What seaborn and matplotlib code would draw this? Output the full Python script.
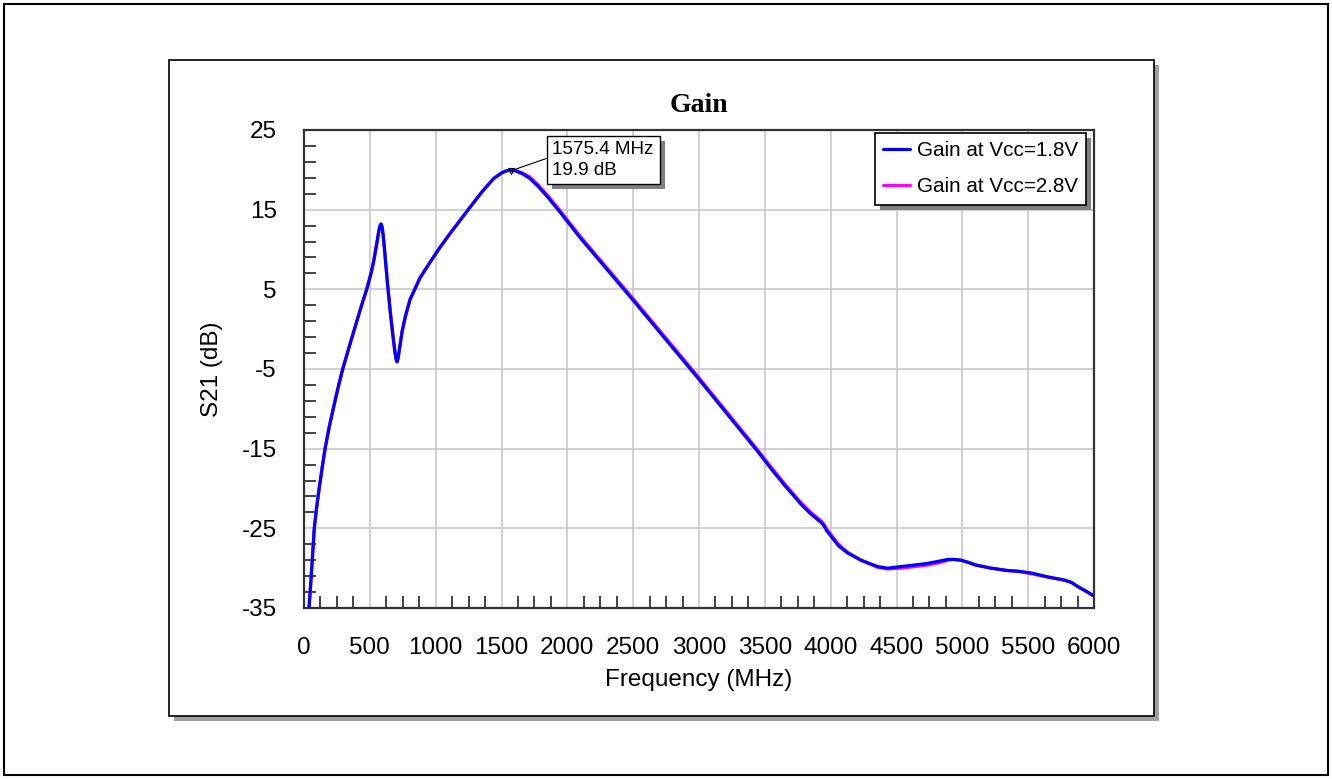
import pandas as pd
import numpy as np
import matplotlib
matplotlib.use("Agg")
import matplotlib.pyplot as plt
import matplotlib.patheffects as pe
from matplotlib.patches import Rectangle
from matplotlib.ticker import MultipleLocator, FixedLocator
import seaborn as sns

# Frequency (MHz) and S21 (dB)
freq = [30, 38, 55, 78, 95, 115, 137, 160, 190, 222,
        258, 294, 340, 383, 430, 476, 509, 530, 547, 560,
        570, 578, 585, 592, 600, 610, 622, 635, 655, 674,
        690, 700, 707, 714, 725, 745, 770, 805, 880, 957,
        1030, 1109, 1261, 1350, 1440, 1500, 1540, 1575, 1610, 1660,
        1716, 1780, 1860, 1944, 2096, 2501, 3000, 3448, 3547, 3650,
        3724, 3776, 3850, 3901, 3930, 3950, 3970, 4003, 4060, 4129,
        4230, 4357, 4433, 4534, 4640, 4737, 4830, 4889, 4930, 4990,
        5050, 5100, 5218, 5344, 5430, 5522, 5648, 5775, 5830, 5876,
        5940, 6000]

gain_18 = [-37.5, -35.0, -31.0, -25.0, -22.5, -20.0, -17.5, -15.0, -12.4, -10.0,
           -7.4, -5.0, -2.4, 0.0, 2.6, 5.0, 7.0, 8.6, 10.2, 11.5,
           12.5, 13.0, 13.2, 12.9, 12.0, 10.3, 8.0, 5.6, 2.2, -0.6,
           -2.8, -3.8, -4.1, -3.7, -2.5, -0.3, 1.6, 3.7, 6.4, 8.4,
           10.2, 12.0, 15.3, 17.2, 18.9, 19.6, 19.9, 19.95, 19.85, 19.5,
           18.9, 17.9, 16.4, 14.7, 11.5, 3.6, -6.3, -15.4, -17.5, -19.6,
           -21.0, -22.0, -23.2, -23.9, -24.3, -24.7, -25.3, -26.0, -27.2, -28.1,
           -29.0, -29.8, -30.0, -29.8, -29.6, -29.4, -29.1, -28.9, -28.9, -29.0,
           -29.3, -29.6, -30.0, -30.3, -30.4, -30.6, -31.1, -31.5, -31.8, -32.3,
           -32.9, -33.5]

gain_28 = [-37.5, -35.0, -31.0, -25.0, -22.5, -20.0, -17.5, -15.0, -12.4, -10.0,
           -7.4, -5.0, -2.4, 0.0, 2.6, 5.0, 7.0, 8.6, 10.2, 11.5,
           12.5, 13.0, 13.2, 12.9, 12.0, 10.3, 8.0, 5.6, 2.2, -0.6,
           -2.8, -3.8, -4.1, -3.7, -2.5, -0.3, 1.6, 3.7, 6.4, 8.4,
           10.2, 12.0, 15.3, 17.2, 18.9, 19.6, 19.9, 19.95, 19.9, 19.6,
           19.1, 18.1, 16.6, 14.9, 11.7, 3.8, -6.1, -15.2, -17.3, -19.4,
           -20.8, -21.8, -23.0, -23.7, -24.1, -24.5, -25.1, -25.8, -27.0, -28.0,
           -29.0, -29.9, -30.1, -30.0, -29.8, -29.6, -29.3, -29.0, -28.9, -29.0,
           -29.3, -29.6, -30.0, -30.3, -30.4, -30.7, -31.1, -31.5, -31.8, -32.3,
           -32.9, -33.5]

series_labels = ["Gain at Vcc=1.8V", "Gain at Vcc=2.8V"]
series_colors = ["#0000ff", "#ff00ff"]

x_ticks = [0, 500, 1000, 1500, 2000, 2500, 3000, 3500, 4000, 4500, 5000, 5500, 6000]
y_ticks = [-35, -25, -15, -5, 5, 15, 25]

peak_freq = 1575.4
peak_gain = 19.9

df = pd.concat([
    pd.DataFrame({"freq": freq, "gain": gain_18, "series": series_labels[0]}),
    pd.DataFrame({"freq": freq, "gain": gain_28, "series": series_labels[1]}),
])

sns.set_style("white")
plt.rcParams["font.family"] = ["Liberation Sans", "DejaVu Sans"]
plt.rcParams["axes.unicode_minus"] = False
plt.rcParams["text.color"] = "black"
plt.rcParams["axes.labelcolor"] = "black"
plt.rcParams["xtick.color"] = "black"
plt.rcParams["ytick.color"] = "black"

W, H = 1332, 779
fig = plt.figure(figsize=(W / 100, H / 100), dpi=100)
fig.patch.set_facecolor("white")

# outer frame and raised panel with drop shadow
fig.add_artist(Rectangle((4 / W, 4 / H), 1 - 8 / W, 1 - 8 / H, transform=fig.transFigure,
                         fill=False, ec="black", lw=1.5, zorder=-5))
px0, py0, px1, py1 = 169, 60, 1154, 716
fig.add_artist(Rectangle(((px0 + 5) / W, 1 - (py1 + 5) / H), (px1 - px0) / W, (py1 - py0) / H,
                         transform=fig.transFigure, fc="#a0a0a0", ec="none", zorder=-4))
fig.add_artist(Rectangle((px0 / W, 1 - py1 / H), (px1 - px0) / W, (py1 - py0) / H,
                         transform=fig.transFigure, fc="white", ec="black", lw=1.2, zorder=-3))

ax_l, ax_r, ax_t, ax_b = 304, 1094, 130, 608
ax = fig.add_axes([ax_l / W, 1 - ax_b / H, (ax_r - ax_l) / W, (ax_b - ax_t) / H])

sns.lineplot(data=df, x="freq", y="gain", hue="series", hue_order=series_labels,
             palette=dict(zip(series_labels, series_colors)), estimator=None, sort=False,
             linewidth=2.3, ax=ax, legend=False)
# blue trace drawn over the magenta one
ax.lines[0].set_zorder(4)
ax.lines[1].set_zorder(3)

ax.set_xlim(0, 6000)
ax.set_ylim(-35, 25)
ax.xaxis.set_major_locator(FixedLocator(x_ticks))
ax.yaxis.set_major_locator(FixedLocator(y_ticks))
ax.xaxis.set_minor_locator(MultipleLocator(125))
ax.yaxis.set_minor_locator(FixedLocator(np.arange(-33, 25, 2)))
ax.set_xticklabels([str(t) for t in x_ticks])
ax.set_yticklabels([str(t) for t in y_ticks])

ax.grid(True, which="major", color="#c8c8c8", lw=1.2)
ax.set_axisbelow(True)
ax.tick_params(which="both", bottom=True, left=True, top=False, right=False)
ax.tick_params(which="major", length=0, labelsize=17.5, colors="black")
ax.tick_params(axis="x", which="major", pad=21)
ax.tick_params(axis="y", which="major", pad=19.5)
ax.tick_params(which="minor", direction="in", length=8.5, width=1.2, color="#222222")
for s in ax.spines.values():
    s.set_color("#333333")
    s.set_linewidth(1.6)

ax.set_xlabel("Frequency (MHz)", fontsize=17.5)
ax.set_ylabel("S21 (dB)", fontsize=17.5)
ax.xaxis.set_label_coords(0.5, -0.128)
ax.yaxis.set_label_coords(-0.1025, 0.5)

fig.text((ax_l + ax_r) / 2 / W, 1 - 105 / H, "Gain", ha="center", va="center",
         fontsize=20, fontweight="bold", family=["Liberation Serif", "DejaVu Serif"])

# legend with shadow
handles = [plt.Line2D([], [], color=c, lw=2.3) for c in series_colors]
leg = ax.legend(handles, series_labels, loc="upper right",
                bbox_to_anchor=((1086 - ax_l) / (ax_r - ax_l), 1 - 3 / (ax_b - ax_t)),
                borderaxespad=0, frameon=True, fancybox=False, framealpha=1,
                edgecolor="black", fontsize=14.9, handlelength=1.3, handletextpad=0.3,
                borderpad=0.4, labelspacing=0.83)
leg.get_frame().set_linewidth(1.2)
leg.get_frame().set_path_effects([
    pe.SimplePatchShadow(offset=(3.6, -3.6), shadow_rgbFace="#808080", alpha=1.0), pe.Normal()])
leg.set_zorder(10)

# marker annotation at the peak
ax.plot([peak_freq], [peak_gain], marker="v", ms=5, mfc="none", mec="black", mew=0.8, zorder=6)
ann = ax.annotate(f"{peak_freq} MHz\n{peak_gain} dB", xy=(peak_freq, peak_gain),
                  xytext=(29.5, 21), textcoords="offset points", ha="left", va="top",
                  fontsize=13.6, linespacing=1.25,
                  bbox=dict(boxstyle="square,pad=0.3", fc="white", ec="black", lw=1.0),
                  arrowprops=dict(arrowstyle="-", color="black", lw=0.8,
                                  shrinkA=0, shrinkB=2, relpos=(0, 0.6)),
                  zorder=9)
ann.get_bbox_patch().set_path_effects([
    pe.SimplePatchShadow(offset=(3.6, -3.6), shadow_rgbFace="#808080", alpha=1.0), pe.Normal()])

fig.savefig("out.png", dpi=100)
